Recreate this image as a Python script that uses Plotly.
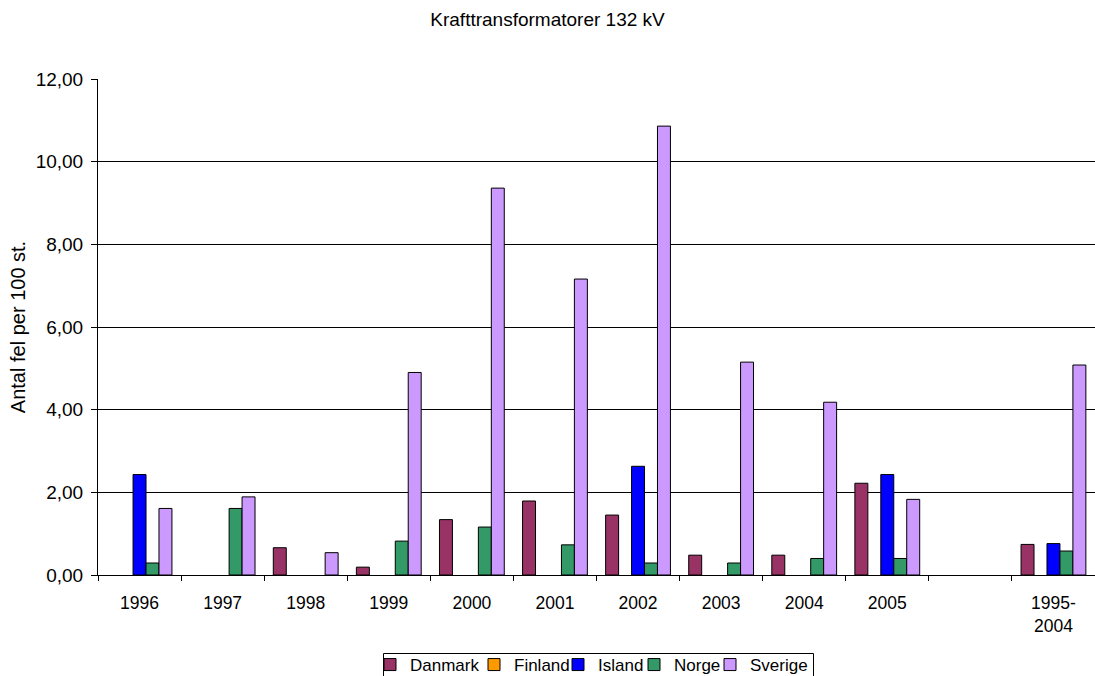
import plotly.graph_objects as go

categories = ["1996", "1997", "1998", "1999", "2000", "2001", "2002", "2003",
              "2004", "2005", " ", "1995-<br>2004"]

# None = 0 (no visible bar in the original)
danmark = [None, None, 0.66, 0.19, 1.34, 1.79, 1.45, 0.48, 0.48, 2.22, None, 0.74]
finland = [None, None, None, None, None, None, None, None, None, None, None, None]
island = [2.43, None, None, None, None, None, 2.63, None, None, 2.43, None, 0.76]
norge = [0.29, 1.61, None, 0.82, 1.16, 0.73, 0.29, 0.29, 0.40, 0.40, None, 0.58]
sverige = [1.61, 1.89, 0.54, 4.90, 9.36, 7.16, 10.86, 5.15, 4.18, 1.83, None, 5.08]

series_names = ["Danmark", "Finland", "Island", "Norge", "Sverige"]
series_values = [danmark, finland, island, norge, sverige]
series_colors = ["#993366", "#FF9900", "#0000FF", "#339966", "#CC99FF"]

FONT = "Liberation Sans, Arial, sans-serif"
W, H = 1095, 676
L, R, T, B = 98, 0, 79, 101
PW, PH = W - L - R, H - T - B

def px_x(p):
    return (p - L) / PW

def px_y(p):
    return (H - B - p) / PH

# legend entry left edges (page px) so entries sit like the original's compact legend
legend_left = [370, 474, 558, 634, 710]

fig = go.Figure()
layout_legends = {}
for i, (name, vals, col) in enumerate(zip(series_names, series_values, series_colors)):
    lg = "legend" if i == 0 else f"legend{i + 1}"
    fig.add_trace(go.Bar(
        name=name, x=categories, y=vals, legend=lg,
        marker=dict(color=col, line=dict(color="#000000", width=1)),
    ))
    layout_legends[lg] = dict(
        orientation="h", x=px_x(legend_left[i]), xanchor="left",
        y=px_y(665), yanchor="middle", borderwidth=0, bgcolor="rgba(0,0,0,0)",
        font=dict(family=FONT, size=17, color="#000000"), itemwidth=30,
    )

fig.update_layout(
    width=W, height=H,
    margin=dict(l=L, r=R, t=T, b=B, autoexpand=False),
    paper_bgcolor="white", plot_bgcolor="white",
    barmode="group", bargap=0.22, bargroupgap=0,
    separators=", ",
    font=dict(family=FONT, size=17, color="#000000"),
    title=dict(text="Krafttransformatorer 132 kV", x=0.5, xref="container",
               y=1 - 19 / H, yref="container", xanchor="center", yanchor="middle",
               font=dict(family=FONT, size=19, color="#000000")),
    showlegend=True,
    **layout_legends,
)

# outer frame of the legend
fig.add_shape(type="rect", xref="paper", yref="paper",
              x0=px_x(383.5), x1=px_x(813.5), y0=px_y(653.5), y1=px_y(700),
              line=dict(color="#000000", width=1), fillcolor="rgba(0,0,0,0)", layer="below")

fig.update_xaxes(
    type="category", showgrid=False, showline=True, linecolor="#000000", linewidth=1,
    ticks="outside", tickson="boundaries", ticklen=5, tickcolor="#000000",
    tickfont=dict(family=FONT, size=17.5, color="#000000"), automargin=False,
    categoryorder="array", categoryarray=categories, ticklabelstandoff=12,
)
fig.update_yaxes(
    range=[0, 12], dtick=2, tickformat=".2f",
    showgrid=True, gridcolor="#000000", gridwidth=1,
    showline=True, linecolor="#000000", linewidth=1,
    ticks="outside", ticklen=6, tickcolor="#000000",
    tickfont=dict(family=FONT, size=19, color="#000000"), ticklabelstandoff=4,
    title=dict(text="Antal fel per 100 st.", font=dict(family=FONT, size=20, color="#000000"),
               standoff=4),
    zeroline=False, automargin=False,
)

fig.write_html("out.html", config={"displayModeBar": False},
               post_script="document.body.style.margin='0';")
